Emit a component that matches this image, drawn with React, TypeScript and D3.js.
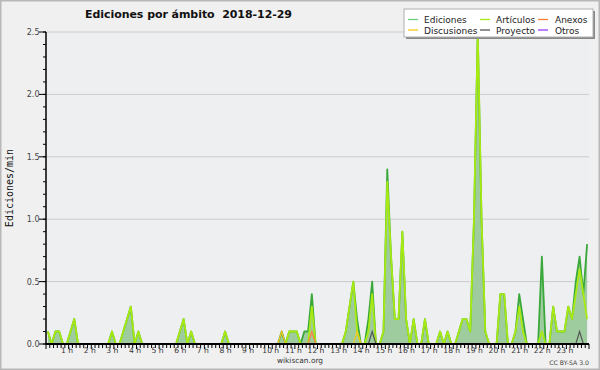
import React from "react";
import * as d3 from "d3";

const title = "Ediciones por ámbito  2018-12-29";
const yTitle = "Ediciones/min";
const hourLabels = [
  "1 h", "2 h", "3 h", "4 h", "5 h", "6 h", "7 h", "8 h", "9 h", "10 h", "11 h", "12 h",
  "13 h", "14 h", "15 h", "16 h", "17 h", "18 h", "19 h", "20 h", "21 h", "22 h", "23 h",
];
const yTickValues = [0, 0.5, 1, 1.5, 2, 2.5];
const yTickLabels = ["0.0", "0.5", "1.0", "1.5", "2.0", "2.5"];

// one value per 10 minutes, six per row = one hour per row
const ediciones = [
  0.1, 0, 0.1, 0.1, 0, 0,
  0.1, 0.2, 0, 0, 0, 0,
  0, 0, 0, 0, 0, 0.1,
  0, 0, 0.1, 0.2, 0.3, 0,
  0.1, 0, 0, 0, 0, 0,
  0, 0, 0, 0, 0, 0.1,
  0.2, 0, 0.1, 0, 0, 0,
  0, 0, 0, 0, 0, 0.1,
  0, 0, 0, 0, 0, 0,
  0, 0, 0, 0, 0, 0,
  0, 0, 0.1, 0, 0.1, 0.1,
  0.1, 0, 0.1, 0.1, 0.4, 0,
  0, 0, 0, 0, 0, 0,
  0, 0.1, 0.3, 0.5, 0.2, 0,
  0, 0.2, 0.5, 0, 0, 0.1,
  1.4, 0.7, 0.2, 0.2, 0.9, 0.2,
  0, 0.2, 0, 0, 0.2, 0,
  0, 0, 0.1, 0, 0.1, 0,
  0, 0.1, 0.2, 0.2, 0.1, 1.0,
  2.5, 1.0, 0.1, 0, 0, 0,
  0.4, 0.4, 0, 0, 0.1, 0.4,
  0.2, 0, 0, 0, 0, 0.7,
  0, 0, 0.3, 0.1, 0.1, 0.1,
  0.3, 0.2, 0.5, 0.7, 0.4, 0.8,
];
const articulos = [
  0.1, 0, 0.1, 0.1, 0, 0,
  0.1, 0.2, 0, 0, 0, 0,
  0, 0, 0, 0, 0, 0.1,
  0, 0, 0.1, 0.2, 0.3, 0,
  0.1, 0, 0, 0, 0, 0,
  0, 0, 0, 0, 0, 0.1,
  0.2, 0, 0.1, 0, 0, 0,
  0, 0, 0, 0, 0, 0.1,
  0, 0, 0, 0, 0, 0,
  0, 0, 0, 0, 0, 0,
  0, 0, 0, 0, 0.1, 0.1,
  0.1, 0, 0, 0, 0.3, 0,
  0, 0, 0, 0, 0, 0,
  0, 0.1, 0.3, 0.5, 0.1, 0,
  0, 0.1, 0.4, 0, 0, 0.1,
  1.3, 0.7, 0.2, 0.2, 0.9, 0.2,
  0, 0.2, 0, 0, 0.2, 0,
  0, 0, 0.1, 0, 0.1, 0,
  0, 0.1, 0.2, 0.2, 0.1, 1.0,
  2.5, 1.0, 0.1, 0, 0, 0,
  0.4, 0.4, 0, 0, 0.1, 0.3,
  0.1, 0, 0, 0, 0, 0.1,
  0, 0, 0.3, 0.1, 0.1, 0.1,
  0.3, 0.2, 0.4, 0.6, 0.4, 0.2,
];
const discusiones = [
  0, 0, 0, 0, 0, 0,
  0, 0, 0, 0, 0, 0,
  0, 0, 0, 0, 0, 0,
  0, 0, 0, 0, 0, 0,
  0, 0, 0, 0, 0, 0,
  0, 0, 0, 0, 0, 0,
  0, 0, 0, 0, 0, 0,
  0, 0, 0, 0, 0, 0,
  0, 0, 0, 0, 0, 0,
  0, 0, 0, 0, 0, 0,
  0, 0, 0.1, 0, 0, 0,
  0, 0, 0, 0, 0, 0,
  0, 0, 0, 0, 0, 0,
  0, 0, 0, 0, 0.1, 0,
  0, 0, 0, 0, 0, 0,
  0, 0, 0, 0, 0, 0,
  0, 0, 0, 0, 0, 0,
  0, 0, 0, 0, 0, 0,
  0, 0, 0, 0, 0, 0,
  0, 0, 0, 0, 0, 0,
  0, 0, 0, 0, 0, 0,
  0, 0, 0, 0, 0, 0,
  0, 0, 0, 0, 0, 0,
  0, 0, 0, 0, 0, 0,
];
const anexos = [
  0, 0, 0, 0, 0, 0,
  0, 0, 0, 0, 0, 0,
  0, 0, 0, 0, 0, 0,
  0, 0, 0, 0, 0, 0,
  0, 0, 0, 0, 0, 0,
  0, 0, 0, 0, 0, 0,
  0, 0, 0, 0, 0, 0,
  0, 0, 0, 0, 0, 0,
  0, 0, 0, 0, 0, 0,
  0, 0, 0, 0, 0, 0,
  0, 0, 0, 0, 0, 0,
  0, 0, 0, 0, 0.1, 0,
  0, 0, 0, 0, 0, 0,
  0, 0, 0, 0, 0, 0,
  0, 0, 0, 0, 0, 0,
  0, 0, 0, 0, 0, 0,
  0, 0, 0, 0, 0, 0,
  0, 0, 0, 0, 0, 0,
  0, 0, 0, 0, 0, 0,
  0, 0, 0, 0, 0, 0,
  0, 0, 0, 0, 0, 0,
  0, 0, 0, 0, 0, 0,
  0, 0, 0, 0, 0, 0,
  0, 0, 0, 0, 0, 0,
];
const proyecto = [
  0, 0, 0, 0, 0, 0,
  0, 0, 0, 0, 0, 0,
  0, 0, 0, 0, 0, 0,
  0, 0, 0, 0, 0, 0,
  0, 0, 0, 0, 0, 0,
  0, 0, 0, 0, 0, 0,
  0, 0, 0, 0, 0, 0,
  0, 0, 0, 0, 0, 0,
  0, 0, 0, 0, 0, 0,
  0, 0, 0, 0, 0, 0,
  0, 0, 0, 0, 0, 0,
  0, 0, 0, 0, 0, 0,
  0, 0, 0, 0, 0, 0,
  0, 0, 0, 0, 0, 0,
  0, 0, 0.1, 0, 0, 0,
  0, 0, 0, 0, 0, 0,
  0, 0, 0, 0, 0, 0,
  0, 0, 0, 0, 0, 0,
  0, 0, 0, 0, 0, 0,
  0, 0, 0, 0, 0, 0,
  0, 0, 0, 0, 0, 0,
  0, 0, 0, 0, 0, 0,
  0, 0, 0, 0, 0, 0,
  0, 0, 0, 0.1, 0, 0,
];
const otros = [
  0, 0, 0, 0, 0, 0,
  0, 0, 0, 0, 0, 0,
  0, 0, 0, 0, 0, 0,
  0, 0, 0, 0, 0, 0,
  0, 0, 0, 0, 0, 0,
  0, 0, 0, 0, 0, 0,
  0, 0, 0, 0, 0, 0,
  0, 0, 0, 0, 0, 0,
  0, 0, 0, 0, 0, 0,
  0, 0, 0, 0, 0, 0,
  0, 0, 0, 0, 0, 0,
  0, 0, 0, 0, 0, 0,
  0, 0, 0, 0, 0, 0,
  0, 0, 0, 0, 0, 0,
  0, 0, 0, 0, 0, 0,
  0, 0, 0, 0, 0, 0,
  0, 0, 0, 0, 0, 0,
  0, 0, 0, 0, 0, 0,
  0, 0, 0, 0, 0, 0,
  0, 0, 0, 0, 0, 0,
  0, 0, 0, 0, 0, 0,
  0, 0, 0, 0, 0, 0,
  0, 0, 0, 0, 0, 0,
  0, 0, 0, 0, 0, 0,
];

const colors = {
  ediciones: "#3aa83a",
  articulos: "#a8ea12",
  anexos: "#ff7f3a",
  discusiones: "#f7c81e",
  proyecto: "#555555",
  otros: "#9a3cff",
  fill: "#9fcc9f",
};

const legendRows = [
  [
    { name: "Ediciones", color: "#6fcf7f" },
    { name: "Artículos", color: colors.articulos },
    { name: "Anexos", color: colors.anexos },
  ],
  [
    { name: "Discusiones", color: colors.discusiones },
    { name: "Proyecto", color: colors.proyecto },
    { name: "Otros", color: colors.otros },
  ],
];

const W = 600;
const H = 370;
const plot = { left: 46, right: 589, top: 32, bottom: 344 };
const sans = "'DejaVu Sans', sans-serif";

export default function App() {
  const x = d3.scaleLinear().domain([0, 144]).range([plot.left, plot.right]);
  const y = d3.scaleLinear().domain([0, 2.5]).range([plot.bottom, plot.top]);

  const line = d3
    .line<number>()
    .x((d, i) => x(i + 0.5))
    .y((d) => y(d));
  const area = d3
    .area<number>()
    .x((d, i) => x(i + 0.5))
    .y0(y(0))
    .y1((d) => y(d));

  const minorY = y.ticks(25);
  const minorX = d3.range(0, 145);

  const colX = [408, 480, 538];
  const textX = [424, 496, 555];

  return (
    <>
      <style>{`body{margin:0}`}</style>
      <svg width={W} height={H} style={{ display: "block" }}>
        <rect x={0} y={0} width={W} height={H} fill="#f0f0f0" />
        <rect x={0.75} y={0.75} width={W - 1.5} height={H - 1.5} fill="none" stroke="#b8b8b8" strokeWidth={1.5} />
        <rect x={plot.left} y={plot.top} width={plot.right - plot.left} height={plot.bottom - plot.top} fill="#eeeff0" />

        {/* grid */}
        {yTickValues.slice(1).map((v) => (
          <line key={v} x1={plot.left} x2={plot.right} y1={y(v)} y2={y(v)} stroke="#cccccc" strokeWidth={1} />
        ))}

        {/* series */}
        <path d={area(ediciones) || ""} fill={colors.fill} />
        <path d={line(ediciones) || ""} fill="none" stroke={colors.ediciones} strokeWidth={1.8} strokeLinejoin="round" />
        <path d={line(articulos) || ""} fill="none" stroke={colors.articulos} strokeWidth={1.8} strokeLinejoin="round" />
        <path d={line(otros) || ""} fill="none" stroke={colors.otros} strokeWidth={1.2} />
        <path d={line(discusiones) || ""} fill="none" stroke={colors.discusiones} strokeWidth={1.2} />
        <path d={line(anexos) || ""} fill="none" stroke={colors.anexos} strokeWidth={1.2} />
        <path d={line(proyecto) || ""} fill="none" stroke={colors.proyecto} strokeWidth={1.2} />

        {/* y axis */}
        <line x1={plot.left} x2={plot.left} y1={plot.top} y2={plot.bottom} stroke="#000" strokeWidth={1.5} />
        {minorY.map((v) => (
          <line key={v} x1={plot.left - 3} x2={plot.left} y1={y(v)} y2={y(v)} stroke="#000" strokeWidth={1} />
        ))}
        {yTickValues.map((v, i) => (
          <g key={v}>
            <line x1={plot.left - 7} x2={plot.left} y1={y(v)} y2={y(v)} stroke="#000" strokeWidth={1} />
            <text x={plot.left - 6.5} y={y(v) + 3} textAnchor="end" fontFamily={sans} fontSize={8} fill="#444">
              {yTickLabels[i]}
            </text>
          </g>
        ))}
        <text
          transform={`translate(13,${(plot.top + plot.bottom) / 2}) rotate(-90)`}
          textAnchor="middle"
          fontFamily="'DejaVu Sans Mono', monospace"
          fontSize={10}
          fill="#111"
        >
          {yTitle}
        </text>

        {/* x axis */}
        <line x1={plot.left} x2={plot.right} y1={plot.bottom} y2={plot.bottom} stroke="#000" strokeWidth={2} />
        {minorX.map((k) => (
          <line
            key={k}
            x1={x(k)}
            x2={x(k)}
            y1={plot.bottom}
            y2={plot.bottom + (k % 6 === 0 ? 5 : 4)}
            stroke="#000"
            strokeWidth={1}
          />
        ))}
        {hourLabels.map((t, i) => (
          <text key={t} x={x((i + 1) * 6) - 1.5} y={353} textAnchor="middle" fontFamily={sans} fontSize={7.6} fill="#333">
            {t}
          </text>
        ))}

        {/* title and credits */}
        <text x={85} y={18} fontFamily={sans} fontWeight="bold" fontSize={11} fill="#111" style={{ whiteSpace: "pre" }} textLength={207}>
          {title}
        </text>
        <text x={300} y={363} textAnchor="middle" fontFamily={sans} fontSize={7.4} fill="#333">
          wikiscan.org
        </text>
        <text x={589} y={365} textAnchor="end" fontFamily={sans} fontSize={6.2} fill="#444">
          CC BY-SA 3.0
        </text>

        {/* legend */}
        <rect x={406} y={11} width={189} height={28} fill="#888" />
        <rect x={404} y={9} width={189} height={28} fill="#ffffff" stroke="#b0b0b0" strokeWidth={1} />
        {legendRows.map((row, r) =>
          row.map((item, c) => (
            <g key={item.name}>
              <line
                x1={colX[c]}
                x2={colX[c] + 10}
                y1={19.5 + r * 10.5}
                y2={19.5 + r * 10.5}
                stroke={item.color}
                strokeWidth={1.3}
              />
              <text x={textX[c]} y={23 + r * 10.5} fontFamily={sans} fontSize={9} fill="#222">
                {item.name}
              </text>
            </g>
          ))
        )}
      </svg>
    </>
  );
}
